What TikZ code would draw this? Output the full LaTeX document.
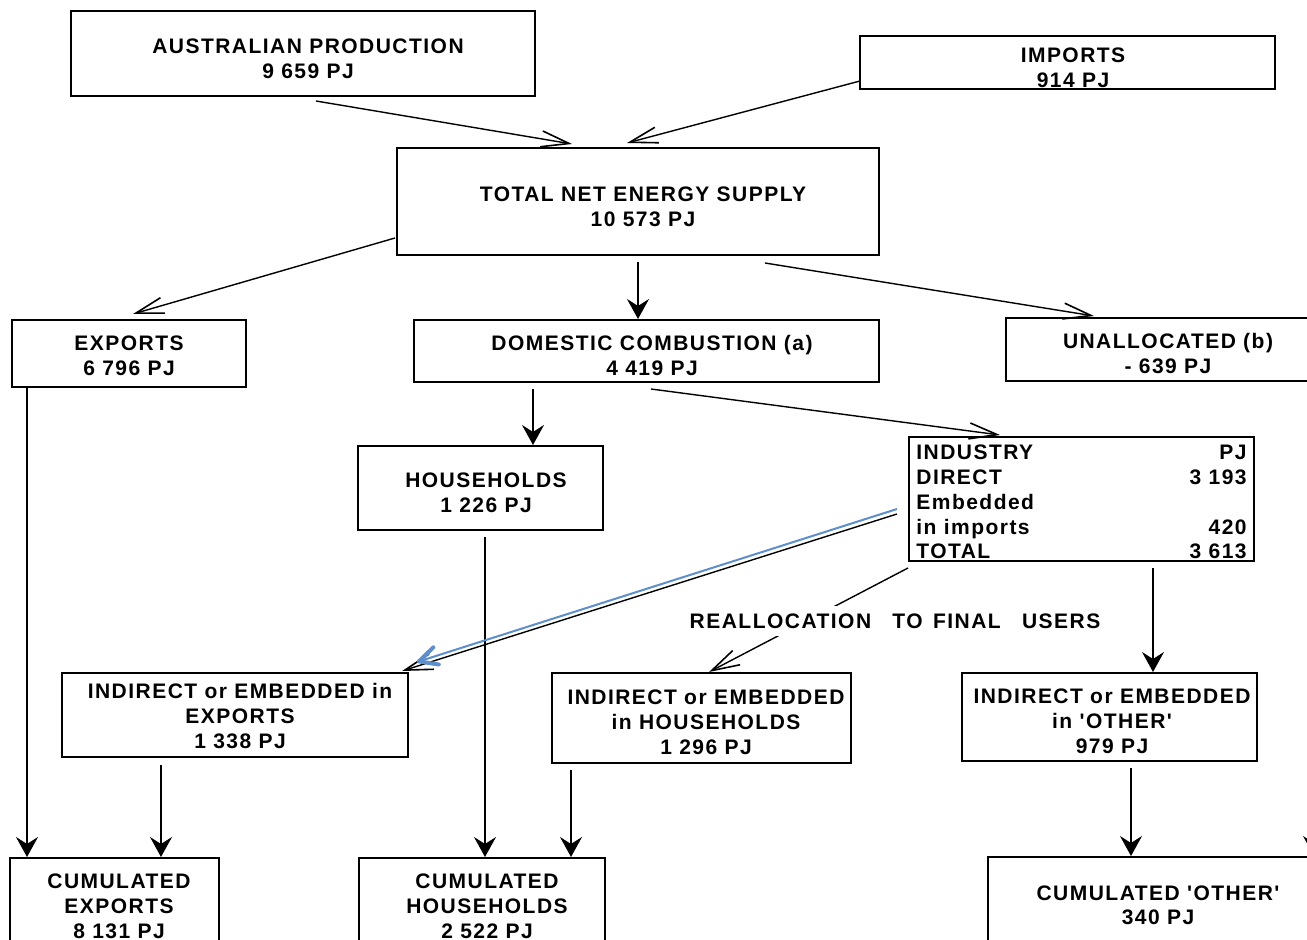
\documentclass[tikz,border=0pt]{standalone}
\usepackage{fontspec}
\setmainfont{Liberation Sans}[LetterSpace=7, Ligatures=TeXOff]
\usetikzlibrary{arrows.meta}
\definecolor{flowblue}{RGB}{94,142,203}
\newcommand\bx[5]{\node[box, minimum width={(#4-#2)*0.5pt}, minimum height={(#5-#3)*0.5pt}] (#1) at (#2,#3) {};}
\begin{document}
\begin{tikzpicture}[x=0.5pt,y=-0.5pt,
  box/.style={draw, line width=1pt, inner sep=0pt, outer sep=0pt, anchor=north west},
  lbl/.style={font=\bfseries\fontsize{10.5}{12.5}\selectfont, align=center, inner sep=0pt},
  cell/.style={font=\bfseries\fontsize{10.5}{12.5}\selectfont, inner sep=0pt},
  openarrow/.style={line width=0.7pt, -{Straight Barb[length=14pt,width=8pt,line width=0.8pt]}},
  fillarrow/.style={line width=0.7pt, -{Stealth[length=10pt,width=11pt,inset=3.5pt]}},
  bluearrow/.style={draw=flowblue, line width=1pt, -{Straight Barb[length=9pt,width=9pt,line width=2pt,round]}}]
\useasboundingbox (0,0) rectangle (1307,940);
\clip (0,0) rectangle (1307,940);
\fill[white] (0,0) rectangle (1307,940);

% boxes
\bx{aus}{71}{11}{535}{96}
\bx{imp}{860}{36}{1275}{89}
\bx{tnes}{397}{148}{879}{255}
\bx{exp}{12}{320}{246}{387}
\bx{dc}{414}{320}{879}{382}
\bx{un}{1006}{318}{1320}{381}
\bx{hh}{358}{446}{603}{530}
\bx{ind}{909}{437}{1254}{561}
\bx{ie}{62}{673}{408}{757}
\bx{ihh}{552}{673}{851}{763}
\bx{io}{962}{673}{1257}{761}
\bx{ce}{10}{858}{219}{960}
\bx{chh}{359}{858}{605}{960}
\bx{co}{988}{857}{1320}{960}

% texts
\node[lbl] (taus) at (308,58.5) {AUSTRALIAN PRODUCTION\\9 659 PJ};
\node[lbl] (timp) at (1073,67.5) {IMPORTS\\914 PJ};
\node[lbl] (ttnes) at (643,206.5) {TOTAL NET ENERGY SUPPLY\\10 573 PJ};
\node[lbl] (texp) at (129,355.5) {EXPORTS\\6 796 PJ};
\node[lbl] (tdc) at (652,355.5) {DOMESTIC COMBUSTION (a)\\4 419 PJ};
\node[lbl] (tun) at (1168,354) {UNALLOCATED (b)\\- 639 PJ};
\node[lbl] (thh) at (486,492.5) {HOUSEHOLDS\\1 226 PJ};
\node[lbl] (tie) at (240,716) {INDIRECT or EMBEDDED in\\EXPORTS\\1 338 PJ};
\node[lbl] (tihh) at (706,722.5) {INDIRECT or EMBEDDED\\in HOUSEHOLDS\\1 296 PJ};
\node[lbl] (tio) at (1112,721) {INDIRECT or EMBEDDED\\in 'OTHER'\\979 PJ};
\node[lbl] (tce) at (119,906) {CUMULATED\\EXPORTS\\8 131 PJ};
\node[lbl] (tchh) at (487,906) {CUMULATED\\HOUSEHOLDS\\2 522 PJ};
\node[lbl, font=\bfseries\fontsize{10.5}{12}\selectfont] (tco) at (1158,905) {CUMULATED 'OTHER'\\340 PJ};

% industry table
\node[cell, anchor=base west] (r1l) at (916,459.5) {INDUSTRY};
\node[cell, anchor=base east] (r1r) at (1247,459.5) {PJ};
\node[cell, anchor=base west] (r2l) at (916,484.5) {DIRECT};
\node[cell, anchor=base east] (r2r) at (1247,484.5) {3 193};
\node[cell, anchor=base west] (r3l) at (916,509.5) {Embedded};
\node[cell, anchor=base west] (r4l) at (916,534.5) {in imports};
\node[cell, anchor=base east] (r4r) at (1247,534.5) {420};
\node[cell, anchor=base west] (r5l) at (916,558.5) {TOTAL};
\node[cell, anchor=base east] (r5r) at (1247,558.5) {3 613};

% connector end points
\coordinate (a1s) at (316,101);  \coordinate (a1e) at (572,144);
\coordinate (a2s) at (860,81);   \coordinate (a2e) at (627,143);
\coordinate (a3s) at (395,238);  \coordinate (a3e) at (133,314);
\coordinate (a4s) at (638,262);  \coordinate (a4e) at (638,319);
\coordinate (a5s) at (765,263);  \coordinate (a5e) at (1094,316);
\coordinate (a6s) at (27,387);   \coordinate (a6e) at (27,857);
\coordinate (a7s) at (533,389);  \coordinate (a7e) at (533,445);
\coordinate (a8s) at (651,389);  \coordinate (a8e) at (1000,435);
\coordinate (a9s) at (485,537);  \coordinate (a9e) at (485,857);
\coordinate (b1s) at (897,514);  \coordinate (b1e) at (402,671);
\coordinate (b2s) at (897,509);  \coordinate (b2e) at (417,662);
\coordinate (b3s) at (908,568);  \coordinate (b3e) at (709,672);
\coordinate (b4s) at (1153,568); \coordinate (b4e) at (1153,672);
\coordinate (b5s) at (161,765);  \coordinate (b5e) at (161,857);
\coordinate (b6s) at (571,770);  \coordinate (b6e) at (571,857);
\coordinate (b7s) at (1131,768); \coordinate (b7e) at (1131,856);
\coordinate (b8s) at (1314,770); \coordinate (b8e) at (1314,856);

\draw[openarrow] (a1s) -- (a1e);
\draw[openarrow] (a2s) -- (a2e);
\draw[openarrow] (a3s) -- (a3e);
\draw[fillarrow] (a4s) -- (a4e);
\draw[openarrow] (a5s) -- (a5e);
\draw[fillarrow] (a6s) -- (a6e);
\draw[fillarrow] (a7s) -- (a7e);
\draw[openarrow] (a8s) -- (a8e);
\draw[fillarrow] (a9s) -- (a9e);
\draw[openarrow] (b1s) -- (b1e);
\draw[bluearrow] (b2s) -- (b2e);
\draw[openarrow] (b3s) -- (b3e);
\draw[fillarrow] (b4s) -- (b4e);
\draw[fillarrow] (b5s) -- (b5e);
\draw[fillarrow] (b6s) -- (b6e);
\draw[fillarrow] (b7s) -- (b7e);
\draw[fillarrow] (b8s) -- (b8e);

\node[lbl, fill=white, inner xsep=0pt, inner ysep=4pt] (realloc) at (895,621)
  {REALLOCATION\hspace{7pt} TO\hspace{1.5pt} FINAL\hspace{7pt} USERS};
\end{tikzpicture}
\end{document}
